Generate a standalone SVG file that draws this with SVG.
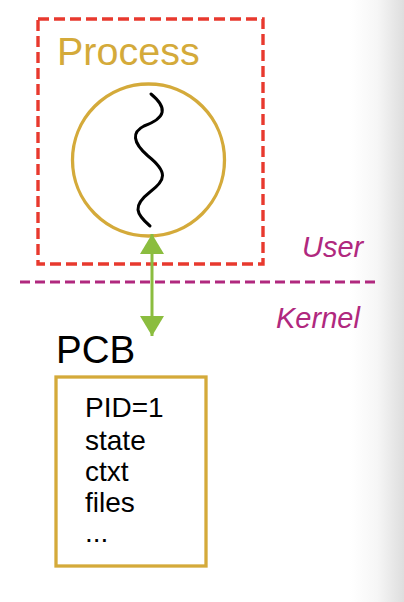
<svg xmlns="http://www.w3.org/2000/svg" width="404" height="602" viewBox="0 0 404 602">
<defs>
<linearGradient id="edge" x1="0" y1="0" x2="1" y2="0">
<stop offset="0" stop-color="#ffffff"/>
<stop offset="0.5" stop-color="#f6f6f6"/>
<stop offset="1" stop-color="#dedede"/>
</linearGradient>
<marker id="ah" viewBox="0 0 20 24" refX="20" refY="12" markerWidth="20" markerHeight="24" markerUnits="userSpaceOnUse" orient="auto-start-reverse">
<path d="M0,0 L20,12 L0,24 Z" fill="#8BBD3F"/>
</marker>
<style>
.gold{fill:none;stroke:#D4AA3A;stroke-width:3.3}
.lbl{font-family:"Liberation Sans",Arial,sans-serif}
.pcb{font-family:"Liberation Sans",Arial,sans-serif;font-size:28px;fill:#000}
.zone{font-family:"Liberation Sans",Arial,sans-serif;font-size:29px;font-style:italic;fill:#B0287E}
</style>
</defs>
<rect width="404" height="602" fill="#ffffff"/>
<rect x="350" y="0" width="54" height="602" fill="url(#edge)"/>
<g id="user-zone">
<text class="zone" x="302" y="257">User</text>
</g>
<g id="kernel-zone">
<text class="zone" x="276" y="328">Kernel</text>
</g>
<g id="boundary">
<line x1="20" y1="282" x2="378" y2="282" stroke="#B0287E" stroke-width="3.2" stroke-dasharray="10,5"/>
</g>
<g id="process">
<rect x="38" y="19" width="225" height="245" fill="none" stroke="#E8392E" stroke-width="3.4" stroke-dasharray="11,5"/>
<text class="lbl" x="57" y="65" font-size="39.5" fill="#D4AA3A">Process</text>
<circle class="gold" cx="148.5" cy="160" r="76"/>
<path d="M151,94 C168,108 166,118 144,126 C132,132 132,142 148,156 C168,172 166,180 150,192 C132,206 136,214 150,226" fill="none" stroke="#000" stroke-width="3" stroke-linecap="round"/>
</g>
<g id="pcb">
<text class="lbl" x="56" y="363" font-size="38.5" fill="#000">PCB</text>
<rect class="gold" x="56" y="377" width="150" height="189"/>
<text class="pcb" x="85" y="417">PID=1</text>
<text class="pcb" x="85" y="450">state</text>
<text class="pcb" x="85" y="481">ctxt</text>
<text class="pcb" x="85" y="512">files</text>
<text class="pcb" x="85" y="542">...</text>
</g>
<g id="connectors">
<line x1="152" y1="234" x2="152" y2="336" stroke="#8BBD3F" stroke-width="3" marker-start="url(#ah)" marker-end="url(#ah)"/>
</g>
</svg>
